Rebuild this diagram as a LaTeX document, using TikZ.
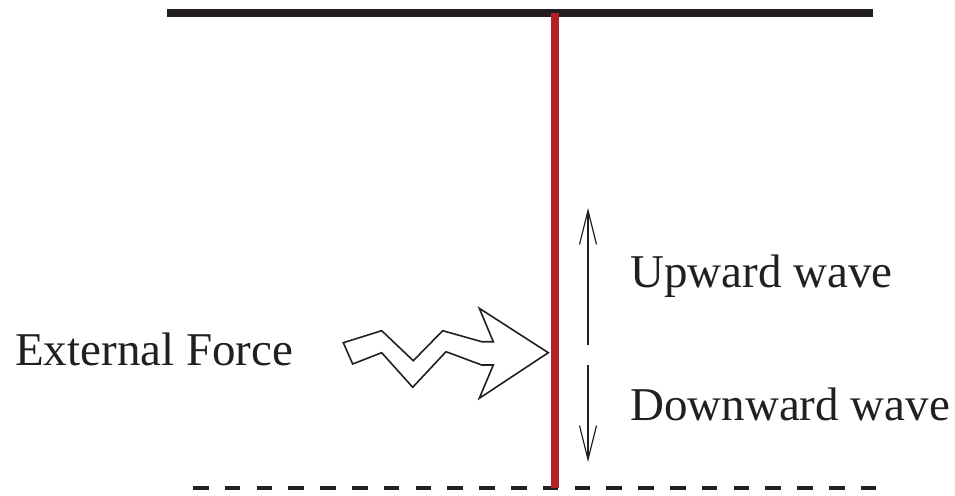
\documentclass[tikz,border=0pt]{standalone}
\usepackage{fontspec}
\setmainfont{Liberation Serif}
\usetikzlibrary{arrows.meta}
\definecolor{rodred}{RGB}{180,32,40}
\definecolor{barblack}{RGB}{35,31,32}
\tikzset{
  lbl/.style={inner sep=0pt, anchor=base west, font=\fontsize{47}{56}\selectfont, text=barblack},
  wavearrow/.style={line width=1.2pt, draw=barblack, -{Straight Barb[length=34pt,width=17pt,line width=1.2pt]}},
  bolt/.style={line width=1.6pt, draw=barblack, fill=white, line join=miter}
}
\begin{document}
\begin{tikzpicture}[x=1pt,y=-1pt]
\useasboundingbox (0,0) rectangle (955,495);
% top fixed boundary
\coordinate (tl) at (167,13.3);
\coordinate (tr) at (873,13.3);
\draw[line width=8pt, barblack] (tl) -- (tr);
% bottom dashed boundary
\coordinate (bl) at (193,488);
\coordinate (br) at (877,488);
\draw[line width=3.5pt, barblack, dash pattern=on 15.5pt off 16.3pt] (bl) -- (br);
% red rod
\coordinate (rt) at (555,13.3);
\coordinate (rb) at (555,488);
\draw[line width=7.5pt, rodred] (rt) -- (rb);
% wave arrows
\coordinate (ua) at (588,345);
\coordinate (ub) at (588,208);
\coordinate (da) at (588,365);
\coordinate (db) at (588,462);
\draw[wavearrow] (ua) -- (ub);
\draw[wavearrow] (da) -- (db);
% external force bolt arrow
\draw[bolt] (343.3,342.7) -- (381.7,330.7) -- (413.3,360.7) -- (442.7,330.7)
  -- (481.7,341.7) -- (493.3,341.7) -- (479.3,308.3) -- (548.3,352.7)
  -- (479.3,398.3) -- (493.3,365) -- (481.7,365) -- (446,351.7)
  -- (412.7,387.3) -- (381.7,352.7) -- (352.7,364) -- cycle;
% labels
\node[lbl] (ext) at (15,365) {External Force};
\node[lbl] (up) at (630,287) {Upward wave};
\node[lbl] (down) at (630,420) {Downward wave};
\end{tikzpicture}
\end{document}
